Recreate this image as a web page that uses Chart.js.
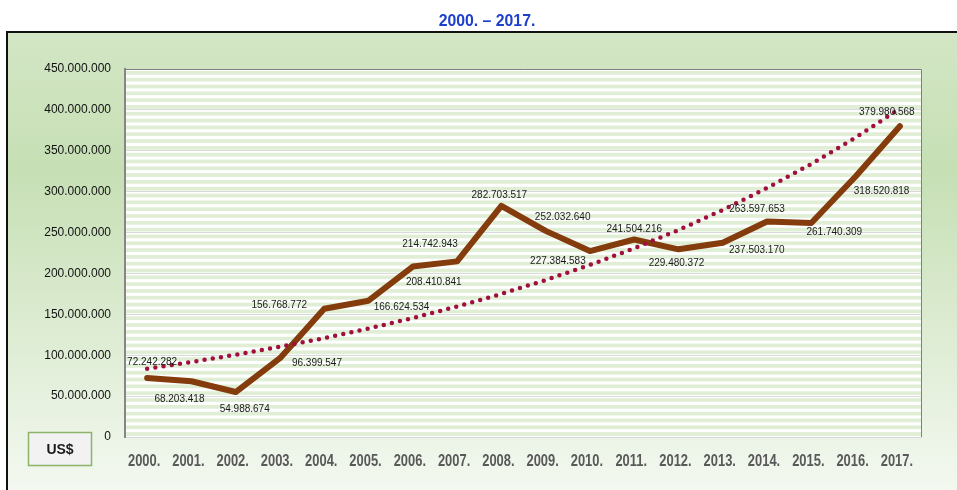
<!DOCTYPE html>
<html>
<head>
<meta charset="utf-8">
<script src="https://cdn.jsdelivr.net/npm/chart.js@4.4.0/dist/chart.umd.min.js"></script>
<style>
  html, body { margin: 0; padding: 0; background: #fff; }
</style>
</head>
<body>
<canvas id="exportChart" width="957" height="490"></canvas>
<script>
// data
const years = ['2000.', '2001.', '2002.', '2003.', '2004.', '2005.', '2006.', '2007.', '2008.',
  '2009.', '2010.', '2011.', '2012.', '2013.', '2014.', '2015.', '2016.', '2017.'];
const valuesUsd = [72242282, 68203418, 54988674, 96399547, 156768772, 166624534, 208410841, 214742943,
  282703517, 252032640, 227384583, 241504216, 229480372, 237503170, 263597653, 261740309, 318520818, 379980568];
// dotted trend line
const trendUsd = [83.6e6, 91.7e6, 100.6e6, 110.3e6, 120.9e6, 132.6e6, 145.5e6, 159.5e6, 175.0e6,
  191.9e6, 210.4e6, 230.8e6, 253.1e6, 277.6e6, 304.5e6, 333.9e6, 366.2e6, 401.6e6];
const yMax = 450000000;
const yStep = 50000000;

// where each value label sits relative to its point (dx, dy)
const labelShift = [[5, -16], [-12, 18], [9, 17], [37, 5], [-45, -4], [33, 7], [21, 16], [-27, -17], [-2, -11],
  [17, -14], [-32, 10], [0, -10], [-2, 14], [34, 7], [-10, -12], [23, 9], [26, 15], [-13, -14]];

const fmt = v => String(Math.round(v)).replace(/\B(?=(\d{3})+(?!\d))/g, '.');

const backdrop = {
  id: 'backdrop',
  beforeDraw(chart) {
    const ctx = chart.ctx;
    const a = chart.chartArea;
    ctx.save();
    ctx.fillStyle = '#fff';
    ctx.fillRect(0, 0, chart.width, chart.height);

    // green outer panel
    const g = ctx.createLinearGradient(0, 32, 0, 490);
    g.addColorStop(0, '#d3e6c5');
    g.addColorStop(0.3, '#c6dfb4');
    g.addColorStop(1, '#f3f8f0');
    ctx.fillStyle = g;
    ctx.fillRect(7, 32, 960, 470);
    ctx.strokeStyle = '#111';
    ctx.lineWidth = 2;
    ctx.strokeRect(7, 32, 960, 470);

    // title
    ctx.fillStyle = '#1c3fcc';
    ctx.font = 'bold 17px "Liberation Sans", Arial, sans-serif';
    ctx.textAlign = 'center';
    ctx.textBaseline = 'alphabetic';
    ctx.save();
    ctx.translate(487, 26);
    ctx.scale(0.93, 1);
    ctx.fillText('2000. \u2013 2017.', 0, 0);
    ctx.restore();

    // striped plot area
    ctx.fillStyle = '#fff';
    ctx.fillRect(a.left, a.top, a.right - a.left, a.bottom - a.top);
    const y = chart.scales.y;
    const band = (y.getPixelForValue(0) - y.getPixelForValue(yStep)) / 6;
    ctx.fillStyle = '#e0eed6';
    for (let p = a.top + 2; p < a.bottom; p += band) {
      ctx.fillRect(a.left, p, a.right - a.left, Math.min(band * 0.55, a.bottom - p));
    }
    ctx.restore();
  },
  afterDraw(chart) {
    const ctx = chart.ctx;
    const a = chart.chartArea;
    const x = chart.scales.x;
    ctx.save();
    // top and right frame of the plot
    ctx.strokeStyle = '#7f7f7f';
    ctx.lineWidth = 1;
    ctx.beginPath();
    ctx.moveTo(a.left, a.top + 0.5);
    ctx.lineTo(a.right - 0.5, a.top + 0.5);
    ctx.lineTo(a.right - 0.5, a.bottom);
    ctx.stroke();

    // year labels (a bit narrow, like the original)
    ctx.fillStyle = '#595959';
    ctx.font = 'bold 17px "Liberation Sans", Arial, sans-serif';
    ctx.textAlign = 'center';
    ctx.textBaseline = 'middle';
    years.forEach((yr, i) => {
      ctx.save();
      ctx.translate(x.getPixelForValue(i) - 3, 461);
      ctx.scale(0.76, 1);
      ctx.fillText(yr, 0, 0);
      ctx.restore();
    });

    // unit box
    ctx.fillStyle = '#f2f2f2';
    ctx.fillRect(28.5, 432.5, 63, 33);
    ctx.strokeStyle = '#8db36a';
    ctx.lineWidth = 1.5;
    ctx.strokeRect(28.5, 432.5, 63, 33);
    ctx.fillStyle = '#1a1a1a';
    ctx.font = 'bold 14px "Liberation Sans", Arial, sans-serif';
    ctx.fillText('US$', 60, 450);

    // value labels
    const meta = chart.getDatasetMeta(0);
    ctx.font = '10px "Liberation Sans", Arial, sans-serif';
    ctx.fillStyle = '#1a1a1a';
    meta.data.forEach((pt, i) => {
      const s = labelShift[i];
      ctx.fillText(fmt(valuesUsd[i]), pt.x + s[0], pt.y + s[1]);
    });
    ctx.restore();
  }
};

new Chart(document.getElementById('exportChart'), {
  type: 'line',
  data: {
    labels: years,
    datasets: [{
      data: valuesUsd,
      borderColor: '#843c0c',
      borderWidth: 6,
      borderJoinStyle: 'round',
      borderCapStyle: 'round',
      pointRadius: 0,
      tension: 0,
      order: 2
    }, {
      data: trendUsd,
      borderColor: '#a10f3f',
      borderWidth: 4.5,
      borderDash: [0, 8.3],
      borderCapStyle: 'round',
      pointRadius: 0,
      tension: 0,
      order: 1
    }]
  },
  options: {
    responsive: false,
    devicePixelRatio: 1,
    animation: false,
    layout: { padding: { left: 0, top: 69, right: 35, bottom: 45 } },
    plugins: {
      legend: { display: false },
      tooltip: { enabled: false }
    },
    scales: {
      x: {
        offset: true,
        grid: { display: false },
        border: { display: false },
        ticks: { display: false }
      },
      y: {
        min: 0,
        max: yMax,
        afterFit(scale) { scale.width = 125; },
        ticks: {
          stepSize: yStep,
          padding: 14,
          color: '#111',
          font: { family: '"Liberation Sans", Arial, sans-serif', size: 12 },
          callback: v => fmt(v)
        },
        grid: { color: '#d9d9d9', lineWidth: 1, drawTicks: false },
        border: { color: '#868686', width: 2 }
      }
    }
  },
  plugins: [backdrop]
});
</script>
</body>
</html>
